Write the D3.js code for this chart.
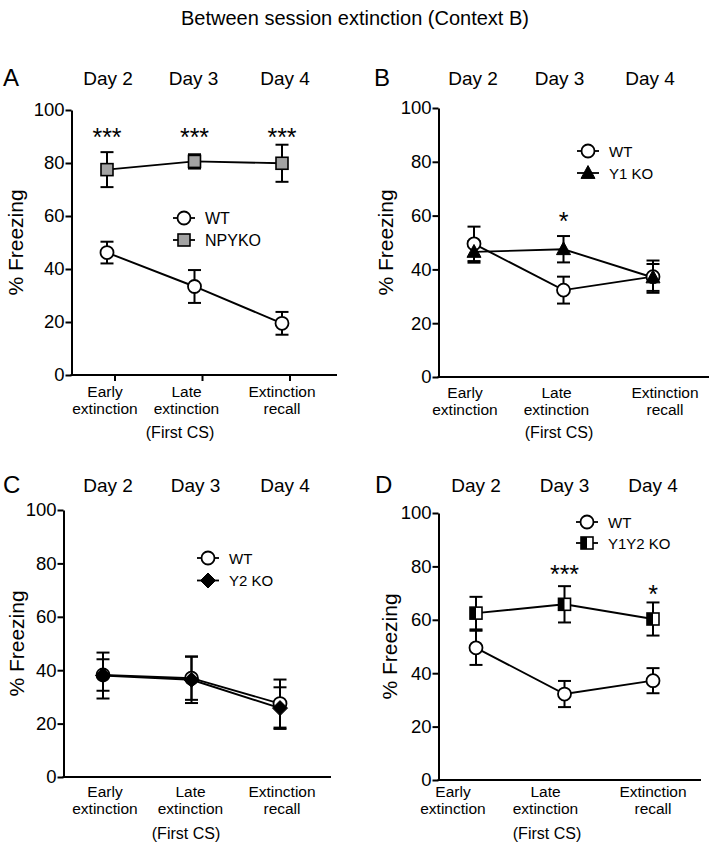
<!DOCTYPE html>
<html>
<head>
<meta charset="utf-8">
<script src="https://cdn.jsdelivr.net/npm/d3@7"></script>
<style>
  html, body { margin: 0; padding: 0; background: #fff; }
  svg { display: block; font-family: "Liberation Sans", Arial, Helvetica, sans-serif; }
</style>
</head>
<body>
<script>
// ---------- DATA ----------
const title = "Between session extinction (Context B)";
const categories = ["Early extinction", "Late extinction", "Extinction recall"];
const days = ["Day 2", "Day 3", "Day 4"];
const yTicks = [0, 20, 40, 60, 80, 100];
const xNote = "(First CS)";

// Panel A
const wtA = [46.2, 33.4, 19.5];
const wtA_sem = [4.1, 6.2, 4.3];
const npykoA = [77.5, 80.6, 79.9];
const npykoA_sem = [6.6, 2.7, 7.0];
const sigA = ["***", "***", "***"];

// Panel B
const wtB = [49.5, 32.3, 37.3];
const wtB_sem = [6.4, 5.0, 6.0];
const y1koB = [46.5, 47.5, 37.0];
const y1koB_sem = [4.0, 4.9, 5.0];
const sigB = ["", "*", ""];

// Panel C
const wtC = [38.2, 37.0, 27.5];
const wtC_sem = [5.9, 8.1, 9.0];
const y2koC = [38.0, 36.4, 25.8];
const y2koC_sem = [8.6, 8.7, 7.8];
const sigC = ["", "", ""];

// Panel D
const wtD = [49.5, 32.2, 37.2];
const wtD_sem = [6.4, 4.9, 4.7];
const y1y2koD = [62.5, 65.8, 60.3];
const y1y2koD_sem = [6.1, 6.8, 6.2];
const sigD = ["", "***", "*"];

// ---------- LAYOUT ----------
const W = 709, H = 846;
const svg = d3.select("body").append("svg").attr("width", W).attr("height", H);

svg.append("text").attr("x", 355).attr("y", 25).attr("text-anchor", "middle")
  .attr("font-size", 20).text(title);

const panels = [
  { letter: "A", letterX: 3, axisX: 71.5, xEnd: 337, yTop: 110, yBottom: 375, xRange: [107, 282],
    dayY: 85, dayDx: [1, -1, 3], catY: 396.5, catDx: [-2, -8, 0], noteX: 180, noteY: 438,
    ticksX: true, tickDx: 8, ylabX: 15,
    series: [
      { name: "WT", vals: wtA, sem: wtA_sem, marker: "circle" },
      { name: "NPYKO", vals: npykoA, sem: npykoA_sem, marker: "square" }
    ],
    sig: sigA, sigLevel: [91.3, 91.3, 91.3], legend: { x: 184, y: 218, dy: 22, fs: 16 } },
  { letter: "B", letterX: 374, axisX: 438.5, xEnd: 709, yTop: 108, yBottom: 377, xRange: [474, 653],
    dayY: 85, dayDx: [-1, -4, -3], catY: 398, catDx: [-9, -7, 12], noteX: 559, noteY: 438,
    ticksX: false, tickDx: 0, ylabX: 385,
    series: [
      { name: "WT", vals: wtB, sem: wtB_sem, marker: "circle" },
      { name: "Y1 KO", vals: y1koB, sem: y1koB_sem, marker: "triangle" }
    ],
    sig: sigB, sigLevel: [0, 59.6, 0], legend: { x: 588, y: 151, dy: 22, fs: 15 } },
  { letter: "C", letterX: 3, axisX: 63.5, xEnd: 331, yTop: 510, yBottom: 777, xRange: [103, 280],
    dayY: 492, dayDx: [5, 4, 5], catY: 797, catDx: [2, -1, 2], noteX: 186, noteY: 839,
    ticksX: false, tickDx: 0, ylabX: 16,
    series: [
      { name: "WT", vals: wtC, sem: wtC_sem, marker: "circle" },
      { name: "Y2 KO", vals: y2koC, sem: y2koC_sem, marker: "diamond" }
    ],
    sig: sigC, sigLevel: [0, 0, 0], legend: { x: 208, y: 558, dy: 22.5, fs: 15 } },
  { letter: "D", letterX: 375, axisX: 438.5, xEnd: 701, yTop: 513, yBottom: 780, xRange: [476, 653],
    dayY: 492, dayDx: [0, 0, 0], catY: 797, catDx: [-23, -19, 0], noteX: 547, noteY: 839,
    ticksX: false, tickDx: 0, ylabX: 389,
    series: [
      { name: "WT", vals: wtD, sem: wtD_sem, marker: "circle" },
      { name: "Y1Y2 KO", vals: y1y2koD, sem: y1y2koD_sem, marker: "halfsquare" }
    ],
    sig: sigD, sigLevel: [0, 78.7, 71], legend: { x: 587, y: 522, dy: 21, fs: 15 } }
];

function drawMarker(g, type, cx, cy) {
  const s = 12;
  if (type === "circle") {
    g.append("circle").attr("cx", cx).attr("cy", cy).attr("r", 6.5)
      .attr("fill", "#fff").attr("stroke", "#000").attr("stroke-width", 1.8);
  } else if (type === "square") {
    g.append("rect").attr("x", cx - s / 2).attr("y", cy - s / 2).attr("width", s).attr("height", s)
      .attr("fill", "#a3a3a3").attr("stroke", "#000").attr("stroke-width", 1.6);
  } else if (type === "triangle") {
    const h = 12, w = 14;
    g.append("path").attr("d", `M${cx},${cy - h * 0.62}L${cx + w / 2},${cy + h * 0.45}L${cx - w / 2},${cy + h * 0.45}Z`)
      .attr("fill", "#000").attr("stroke", "#000").attr("stroke-width", 1);
  } else if (type === "diamond") {
    const r = 7.5;
    g.append("path").attr("d", `M${cx},${cy - r}L${cx + r},${cy}L${cx},${cy + r}L${cx - r},${cy}Z`)
      .attr("fill", "#000").attr("stroke", "#000").attr("stroke-width", 1);
  } else if (type === "halfsquare") {
    g.append("rect").attr("x", cx - s / 2).attr("y", cy - s / 2).attr("width", s).attr("height", s)
      .attr("fill", "#fff").attr("stroke", "#000").attr("stroke-width", 1.6);
    g.append("rect").attr("x", cx - s / 2).attr("y", cy - s / 2).attr("width", s / 2).attr("height", s)
      .attr("fill", "#000");
  }
}

panels.forEach(p => {
  const g = svg.append("g");
  const x = d3.scalePoint().domain(categories).range(p.xRange);
  const y = d3.scaleLinear().domain([0, 100]).range([p.yBottom, p.yTop]);

  // panel letter
  g.append("text").attr("x", p.letterX).attr("y", p.dayY + 1).attr("font-size", 24).text(p.letter);

  // day labels
  g.selectAll(".day").data(days).enter().append("text")
    .attr("x", (d, i) => x(categories[i]) + p.dayDx[i]).attr("y", p.dayY)
    .attr("text-anchor", "middle").attr("font-size", 19).text(d => d);

  // y axis
  const yAxis = d3.axisLeft(y).tickValues(yTicks).tickSize(6).tickSizeOuter(0).tickPadding(1)
    .tickFormat(d3.format("d"));
  const ya = g.append("g").attr("transform", `translate(${p.axisX},0)`).call(yAxis);
  ya.selectAll("path,line").attr("stroke", "#000").attr("stroke-width", 2);
  ya.selectAll("text").attr("font-size", 18.5).attr("fill", "#000")
    .attr("font-family", "'Liberation Sans', Arial, sans-serif");

  // x axis line
  g.append("line").attr("x1", p.axisX - 1).attr("x2", p.xEnd).attr("y1", p.yBottom).attr("y2", p.yBottom)
    .attr("stroke", "#000").attr("stroke-width", 2);
  if (p.ticksX) {
    g.selectAll(".xt").data(categories).enter().append("line")
      .attr("x1", d => x(d) + p.tickDx).attr("x2", d => x(d) + p.tickDx)
      .attr("y1", p.yBottom).attr("y2", p.yBottom + 6)
      .attr("stroke", "#000").attr("stroke-width", 2);
  }

  // category labels
  categories.forEach((c, i) => {
    const parts = c.split(" ");
    const t = g.append("text").attr("text-anchor", "middle").attr("font-size", 15.5);
    t.append("tspan").attr("x", x(c) + p.catDx[i]).attr("y", p.catY).text(parts[0]);
    t.append("tspan").attr("x", x(c) + p.catDx[i]).attr("y", p.catY + 17).text(parts[1]);
  });
  g.append("text").attr("x", p.noteX).attr("y", p.noteY).attr("text-anchor", "middle")
    .attr("font-size", 16).text(xNote);

  // y axis label
  const ymid = (p.yTop + p.yBottom) / 2;
  g.append("text").attr("transform", `translate(${p.ylabX},${ymid}) rotate(-90)`)
    .attr("text-anchor", "middle").attr("dominant-baseline", "central")
    .attr("font-size", 21).text("% Freezing");

  // error bars
  const cap = 6.5;
  p.series.forEach(s => {
    s.vals.forEach((v, i) => {
      const cx = x(categories[i]);
      const y1 = y(v + s.sem[i]), y0 = y(v - s.sem[i]);
      g.append("line").attr("x1", cx).attr("x2", cx).attr("y1", y1).attr("y2", y0)
        .attr("stroke", "#000").attr("stroke-width", 2);
      [y1, y0].forEach(yy => g.append("line").attr("x1", cx - cap).attr("x2", cx + cap)
        .attr("y1", yy).attr("y2", yy).attr("stroke", "#000").attr("stroke-width", 2));
    });
  });

  // lines
  const line = d3.line().x((d, i) => x(categories[i])).y(d => y(d));
  p.series.forEach(s => {
    g.append("path").datum(s.vals).attr("d", line).attr("fill", "none")
      .attr("stroke", "#000").attr("stroke-width", 1.9);
  });

  // markers
  p.series.forEach(s => {
    s.vals.forEach((v, i) => drawMarker(g, s.marker, x(categories[i]), y(v)));
  });

  // significance
  p.sig.forEach((st, i) => {
    if (!st) return;
    g.append("text").attr("x", x(categories[i])).attr("y", y(p.sigLevel[i]) + 13)
      .attr("text-anchor", "middle").attr("font-size", 25).text(st);
  });

  // legend
  const L = p.legend;
  p.series.forEach((s, k) => {
    const ly = L.y + k * L.dy;
    g.append("line").attr("x1", L.x - 11).attr("x2", L.x + 11).attr("y1", ly).attr("y2", ly)
      .attr("stroke", "#000").attr("stroke-width", 1.8);
    drawMarker(g, s.marker, L.x, ly);
    g.append("text").attr("x", L.x + 21).attr("y", ly).attr("dominant-baseline", "central")
      .attr("font-size", L.fs).text(s.name);
  });
});
</script>
</body>
</html>
